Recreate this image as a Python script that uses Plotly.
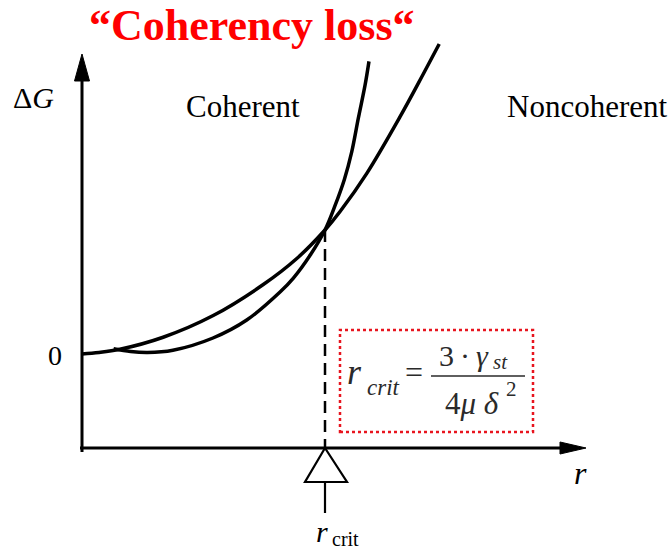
import plotly.graph_objects as go

# ---- data (r in units of r_crit, dG in units of dG at the crossing) ----
noncoh_r = [0.0, 0.07, 0.156, 0.334, 0.540, 0.746, 0.884, 1.0, 1.062, 1.172, 1.309, 1.405, 1.470]
noncoh_g = [0.0, 0.012, 0.038, 0.135, 0.310, 0.560, 0.770, 1.0, 1.149, 1.457, 1.914, 2.260, 2.500]

coh_r = [0.13, 0.20, 0.27, 0.374, 0.539, 0.678, 0.815, 0.869, 0.94, 1.0, 1.04, 1.08, 1.11, 1.137, 1.165, 1.181]
coh_g = [0.042, 0.020, 0.012, 0.030, 0.129, 0.274, 0.500, 0.610, 0.80, 1.0, 1.19, 1.41, 1.63, 1.90, 2.17, 2.36]

r_crit = 1.0
g_cross = 1.0

# pixel -> data helpers for decorations
W, H = 671, 549
X0PX, Y0PX, SX, SY = 82, 354, 243.0, 124.0
def X(px):
    return (px - X0PX) / SX
def Y(py):
    return (Y0PX - py) / SY

axis_y = Y(448)
serif = "Liberation Serif"
fcol = "#2a2a2a"

fig = go.Figure()
fig.add_trace(go.Scatter(x=noncoh_r, y=noncoh_g, mode="lines",
                         line=dict(color="black", width=3.5, shape="spline", smoothing=1.0), hoverinfo="skip"))
fig.add_trace(go.Scatter(x=coh_r, y=coh_g, mode="lines",
                         line=dict(color="black", width=3.5, shape="spline", smoothing=1.0), hoverinfo="skip"))

shapes = []
# axes
shapes.append(dict(type="line", x0=0, x1=0, y0=Y(452), y1=Y(78), line=dict(color="black", width=3)))
shapes.append(dict(type="line", x0=X(80), x1=X(563), y0=axis_y, y1=axis_y, line=dict(color="black", width=3)))
# arrowheads
shapes.append(dict(type="path", path=f"M {X(82)} {Y(54)} L {X(74.5)} {Y(81)} L {X(89.5)} {Y(81)} Z",
                   fillcolor="black", line=dict(color="black", width=1)))
shapes.append(dict(type="path", path=f"M {X(586)} {axis_y} L {X(560)} {Y(442)} L {X(560)} {Y(454)} Z",
                   fillcolor="black", line=dict(color="black", width=1)))
# dashed critical line
shapes.append(dict(type="line", x0=r_crit, x1=r_crit, y0=g_cross, y1=axis_y,
                   line=dict(color="black", width=2.5, dash="12px,7px")))
# triangle marker with stem
shapes.append(dict(type="path", path=f"M {r_crit} {axis_y} L {X(305)} {Y(482)} L {X(347)} {Y(482)} Z",
                   fillcolor="white", line=dict(color="black", width=2.2)))
shapes.append(dict(type="line", x0=r_crit, x1=r_crit, y0=Y(482), y1=Y(513), line=dict(color="black", width=2.2)))
# red dotted box
shapes.append(dict(type="rect", x0=X(340), x1=X(533), y0=Y(432), y1=Y(330),
                   line=dict(color="#e8141e", width=2.5, dash="dot"), fillcolor="rgba(0,0,0,0)"))
# fraction bar
shapes.append(dict(type="line", x0=X(431), x1=X(525), y0=Y(376), y1=Y(376), line=dict(color=fcol, width=1.6)))

def ann(text, px, py, size, color="black", family=serif, xanchor="center"):
    return dict(text=text, x=X(px), y=Y(py), xref="x", yref="y", showarrow=False,
                xanchor=xanchor, yanchor="middle", font=dict(family=family, size=size, color=color))

annotations = [
    ann("<b>\u201cCoherency loss\u201c</b>", 252, 25, 44, color="#ff0000"),
    ann("\u0394<i>G</i>", 33, 97, 30),
    ann("0", 55, 355, 28),
    ann("Coherent", 243, 106, 31),
    ann("Noncoherent", 587, 106, 31),
    ann("<i>r</i>", 580, 473, 32),
    ann("<i>r</i>", 322, 531, 30),
    ann("crit", 345, 539, 20),
    # formula
    ann("<i>r</i>", 354, 372, 36, color=fcol),
    ann("<i>crit</i>", 383, 387, 23, color=fcol),
    ann("=", 414, 372, 32, color=fcol),
    ann("3\u2009\u00b7\u2009<i>\u03b3</i>", 464, 355, 30, color=fcol),
    ann("<i>st</i>", 500, 362, 21, color=fcol),
    ann("4<i>\u03bc \u03b4</i>", 472, 403, 31, color=fcol),
    ann("2", 511, 389, 21, color=fcol),
]

fig.update_layout(
    width=W, height=H, margin=dict(l=0, r=0, t=0, b=0),
    paper_bgcolor="white", plot_bgcolor="white", showlegend=False,
    xaxis=dict(range=[X(0), X(W)], visible=False, fixedrange=True),
    yaxis=dict(range=[Y(H), Y(0)], visible=False, fixedrange=True),
    shapes=shapes, annotations=annotations,
)
fig.write_html("out.html", config={"displayModeBar": False},
               post_script="document.body.style.margin='0px';document.body.style.overflow='hidden';")
